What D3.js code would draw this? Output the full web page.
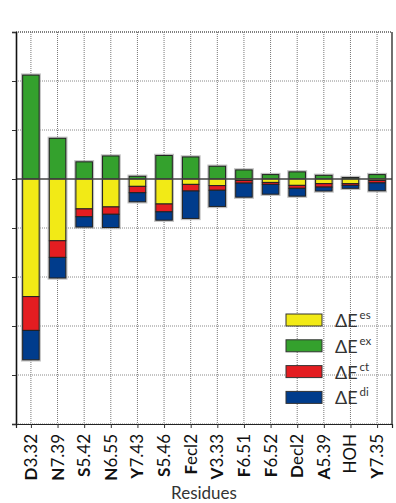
<!DOCTYPE html>
<html>
<head>
<meta charset="utf-8">
<script src="https://cdn.jsdelivr.net/npm/d3@7"></script>
<style>
  html, body { margin: 0; padding: 0; background: #fff; }
  svg { display: block; font-family: Lato, "Open Sans", sans-serif; }
</style>
</head>
<body>
<svg id="chart" width="396" height="503"></svg>
<script>
// Interaction energy decomposition per residue
const residues = ["D3.32", "N7.39", "S5.42", "N6.55", "Y7.43", "S5.46", "Fecl2",
                  "V3.33", "F6.51", "F6.52", "Decl2", "A5.39", "HOH", "Y7.35"];
// whether the leading residue letter is set in bold
const boldInitial = [true, true, true, true, true, true, true,
                     true, true, true, true, true, false, true];
const exchange      = [21.2, 8.3, 3.5, 4.7, 0.55, 4.8, 4.5, 2.6, 1.85, 0.9, 1.45, 0.75, 0.3, 0.9];
const electrostatic = [-24.0, -12.6, -6.1, -5.7, -1.5, -5.1, -1.1, -1.35, -0.3, -0.7, -1.3, -0.95, -0.95, -0.3];
const chargeTransfer= [-6.9, -3.4, -1.6, -1.5, -1.3, -1.6, -1.35, -0.95, -0.55, -0.4, -0.6, -0.7, -0.35, -0.5];
const dispersion    = [-6.0, -4.2, -2.1, -2.7, -1.85, -1.7, -5.6, -3.3, -2.85, -2.0, -1.6, -0.8, -0.6, -1.6];
const yTicks = [-50, -40, -30, -20, -10, 0, 10, 20, 30];

const legendItems = [
  { sup: "es", color: "#f2ea16" },
  { sup: "ex", color: "#34a12d" },
  { sup: "ct", color: "#e41d21" },
  { sup: "di", color: "#003c8c" }
];
const colorOf = { es: "#f2ea16", ex: "#34a12d", ct: "#e41d21", di: "#003c8c" };

const svg = d3.select("#chart");
const plot = { left: 16, right: 392, top: 32, bottom: 424 };

const x = d3.scalePoint().domain(residues).range([plot.left, plot.right]).padding(0.56);
const y = d3.scaleLinear().domain([-50, 30]).range([plot.bottom, plot.top]);
const barW = 16.5;

// grid
const grid = svg.append("g");
grid.selectAll("line.h").data(yTicks.filter(t => t !== 0)).join("line")
  .attr("x1", plot.left).attr("x2", plot.right)
  .attr("y1", d => y(d)).attr("y2", d => y(d))
  .attr("stroke", d => d === 30 ? "#555" : "#888")
  .attr("stroke-width", d => d === 30 ? 1.6 : 1)
  .attr("stroke-dasharray", "1,1");
grid.selectAll("line.v").data(residues).join("line")
  .attr("x1", d => x(d)).attr("x2", d => x(d))
  .attr("y1", plot.top).attr("y2", plot.bottom)
  .attr("stroke", "#777").attr("stroke-width", 1)
  .attr("stroke-dasharray", "1,1");

// stacked segments: exchange above zero, es/ct/di stacked downward
const segs = [];
residues.forEach((r, i) => {
  segs.push({ r, key: "ex", y0: 0, y1: exchange[i] });
  let acc = 0;
  [["es", electrostatic[i]], ["ct", chargeTransfer[i]], ["di", dispersion[i]]].forEach(([k, v]) => {
    segs.push({ r, key: k, y0: acc, y1: acc + v });
    acc += v;
  });
});

const bars = svg.append("g");
// soft halo behind the bars
bars.selectAll("rect.halo").data(residues).join("rect")
  .attr("x", d => x(d) - barW / 2)
  .attr("y", (d, i) => y(exchange[i]))
  .attr("width", barW)
  .attr("height", (d, i) => y(electrostatic[i] + chargeTransfer[i] + dispersion[i]) - y(exchange[i]))
  .attr("fill", "none").attr("stroke", "#aaa").attr("stroke-width", 3.4).attr("opacity", 0.75);

bars.selectAll("rect.seg").data(segs).join("rect")
  .attr("x", d => x(d.r) - barW / 2)
  .attr("y", d => y(Math.max(d.y0, d.y1)))
  .attr("width", barW)
  .attr("height", d => Math.abs(y(d.y0) - y(d.y1)))
  .attr("fill", d => colorOf[d.key])
  .attr("stroke", "#222").attr("stroke-width", 1);

// zero line
svg.append("line")
  .attr("x1", plot.left).attr("x2", plot.right).attr("y1", y(0)).attr("y2", y(0))
  .attr("stroke", "#444").attr("stroke-width", 1.5);

// axes
const yAxis = d3.axisLeft(y).tickValues(yTicks).tickSize(4).tickFormat("");
const gy = svg.append("g").attr("transform", `translate(${plot.left},0)`).call(yAxis);
gy.select(".domain").attr("stroke", "#111").attr("stroke-width", 1.6);
gy.selectAll(".tick line").attr("stroke", "#333");

const xAxis = d3.axisBottom(x).tickSize(4).tickFormat("");
const gx = svg.append("g").attr("transform", `translate(0,${plot.bottom})`).call(xAxis);
gx.select(".domain").attr("stroke", "#222").attr("stroke-width", 1.2);
gx.selectAll(".tick line").attr("stroke", "#333");

// right border
svg.append("line").attr("x1", plot.right).attr("x2", plot.right)
  .attr("y1", plot.top).attr("y2", plot.bottom)
  .attr("stroke", "#333").attr("stroke-width", 1.4);

// rotated residue labels
const labels = svg.append("g");
residues.forEach((r, i) => {
  const t = labels.append("text")
    .attr("transform", `translate(${x(r) + 6},${plot.bottom + 10}) rotate(-90)`)
    .attr("text-anchor", "end")
    .attr("font-size", 17)
    .attr("fill", "#111");
  if (boldInitial[i]) {
    t.append("tspan").attr("font-weight", 700).text(r[0]);
    t.append("tspan").text(r.slice(1));
  } else {
    t.append("tspan").text(r);
  }
});

svg.append("text")
  .attr("x", (plot.left + plot.right) / 2).attr("y", 499)
  .attr("text-anchor", "middle").attr("font-size", 17).attr("fill", "#333")
  .text("Residues");

// legend
const lg = svg.append("g");
legendItems.forEach((d, i) => {
  const yy = 314 + i * 25.8;
  lg.append("rect").attr("x", 286).attr("y", yy).attr("width", 36).attr("height", 12)
    .attr("fill", d.color).attr("stroke", "#333").attr("stroke-width", 1);
  const t = lg.append("text").attr("x", 335).attr("y", yy + 13)
    .attr("font-size", 18).attr("fill", "#333");
  t.append("tspan").text("ΔE");
  t.append("tspan").attr("font-size", 11.5).attr("dx", 2).attr("dy", -8).text(d.sup);
});
</script>
</body>
</html>
